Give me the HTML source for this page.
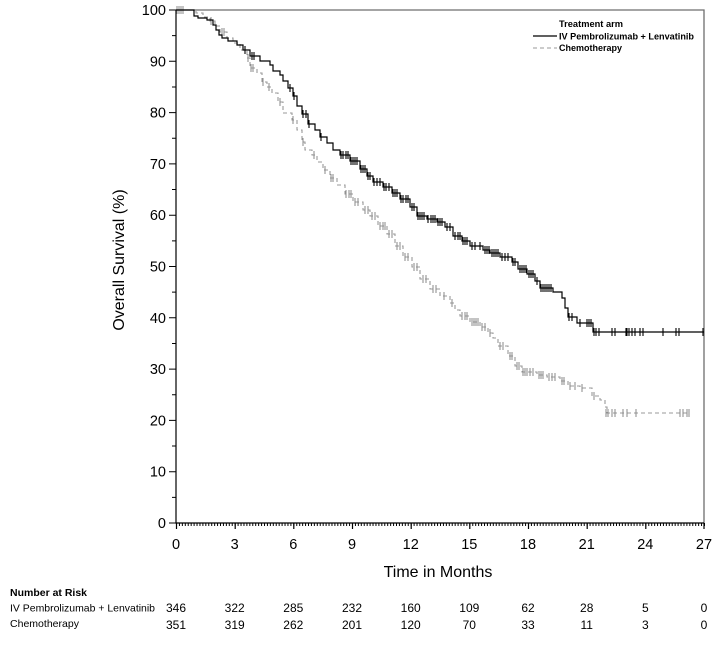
<!DOCTYPE html>
<html>
<head>
<meta charset="utf-8">
<style>
  html,body{margin:0;padding:0;background:#fff;}
  svg{display:block;}
  text{font-family:"Liberation Sans",Arial,sans-serif;fill:#000;}
</style>
</head>
<body>
<svg width="716" height="647" viewBox="0 0 716 647" xmlns="http://www.w3.org/2000/svg">
  <rect width="716" height="647" fill="#fff"/>

  <!-- frame top/right -->
  <path d="M176,10 H704 V523" fill="none" stroke="#6e6e6e" stroke-width="1.3"/>
  <!-- axes -->
  <path d="M176,10 V523 H704" fill="none" stroke="#000" stroke-width="1.2"/>

  <!-- y ticks -->
  <path d="M169,523H176 M169,471.7H176 M169,420.4H176 M169,369.1H176 M169,317.8H176 M169,266.5H176 M169,215.2H176 M169,163.9H176 M169,112.6H176 M169,61.3H176 M169,10H176
           M172,497.35H176 M172,446.05H176 M172,394.75H176 M172,343.45H176 M172,292.15H176 M172,240.85H176 M172,189.55H176 M172,138.25H176 M172,86.95H176 M172,35.65H176"
        stroke="#000" stroke-width="1"/>
  <g font-size="14.5" text-anchor="end">
    <text x="166" y="528">0</text>
    <text x="166" y="476.7">10</text>
    <text x="166" y="425.4">20</text>
    <text x="166" y="374.1">30</text>
    <text x="166" y="322.8">40</text>
    <text x="166" y="271.5">50</text>
    <text x="166" y="220.2">60</text>
    <text x="166" y="168.9">70</text>
    <text x="166" y="117.6">80</text>
    <text x="166" y="66.3">90</text>
    <text x="166" y="15">100</text>
  </g>

  <!-- x minor ticks -->
  <line x1="176" y1="524.5" x2="705" y2="524.5" stroke="#000" stroke-width="3" stroke-dasharray="1 1.9333"/>
  <!-- x major ticks -->
  <path d="M176.5,523v6 M235.2,523v6 M293.8,523v6 M352.5,523v6 M411.2,523v6 M469.8,523v6 M528.5,523v6 M587.2,523v6 M645.8,523v6 M704,523v6" stroke="#000" stroke-width="1.2"/>
  <g font-size="14.5" text-anchor="middle">
    <text x="176" y="549">0</text>
    <text x="234.7" y="549">3</text>
    <text x="293.3" y="549">6</text>
    <text x="352" y="549">9</text>
    <text x="410.7" y="549">12</text>
    <text x="469.3" y="549">15</text>
    <text x="528" y="549">18</text>
    <text x="586.7" y="549">21</text>
    <text x="645.3" y="549">24</text>
    <text x="704" y="549">27</text>
  </g>

  <text x="438" y="577" font-size="16" text-anchor="middle">Time in Months</text>
  <text transform="translate(124,260) rotate(-90)" font-size="16" text-anchor="middle">Overall Survival (%)</text>

  <!-- Chemotherapy curve (gray dashed) -->
  <path d="M176,10 H196 V13 H203 V17 H210 V21 H215 V26 H220 V32 H227 V38 H233 V43 H240 V50 H247 V58 H250 V68 H257 V73 H262 V82 H267 V87 H272 V93 H278 V102 H283 V113 H292 V120 H297 V130 H302 V142 H305 V150 H312 V155 H317 V162 H323 V170 H330 V178 H337 V185 H345 V194 H353 V202 H363 V210 H370 V216 H378 V226 H387 V234 H395 V246 H403 V257 H412 V267 H420 V279 H430 V289 H440 V296 H450 V303 H455 V310 H460 V316 H470 V322 H480 V327 H488 V333 H493 V338 H498 V346 H508 V356 H515 V366 H522 V372 H537 V375 H547 V377 H560 V381 H568 V386 H580 V388 H592 V396 H600 V400 H605 V407 H607 V413 H690"
        fill="none" stroke="#999" stroke-width="1.1" stroke-dasharray="4 3"/>
  <path d="M177,6v8 M179,6v8 M181,6v8 M183,6v8
           M211,17v8 M222,28v8 M224,28v8 M248,54v8 M251,64v8 M253,64v8 M263,78v8 M269,83v8 M280,98v8 M293,116v8 M303,138v8 M314,151v8 M325,166v8 M331,174v8 M333,174v8
           M346,190v8 M349,190v8 M351,190v8 M355,198v8 M358,198v8 M365,206v8 M368,206v8 M372,212v8 M375,212v8
           M380,222v8 M383,222v8 M385,222v8 M389,230v8 M392,230v8 M397,242v8 M400,242v8 M405,253v8 M408,253v8
           M414,263v8 M417,263v8 M423,275v8 M426,275v8 M433,285v8 M436,285v8 M444,292v8 M452,299v8
           M462,312v8 M465,312v8 M467,312v8 M472,318v8 M474,318v8 M476,318v8 M478,318v8 M482,323v8 M485,323v8 M490,329v8
           M500,342v8 M503,342v8 M510,352v8 M512,352v8 M517,362v8 M519,362v8
           M523,368v8 M525,368v8 M527,368v8 M530,368v8 M533,368v8 M539,371v8 M541,371v8 M543,371v8 M549,373v8 M552,373v8 M555,373v8
           M562,377v8 M564,377v8 M570,382v8 M575,382v8 M582,384v8 M594,392v8
           M606,409v8 M608,409v8 M612,409v8 M615,409v8 M623,409v8 M627,409v8 M636,409v8 M680,409v8 M683,409v8 M687,409v8 M689,409v8"
        fill="none" stroke="#888" stroke-width="1"/>

  <!-- Pembrolizumab + Lenvatinib curve (black solid) -->
  <path d="M176,10 H194 V16 H198 V18 H207 V20 H213 V25 H216 V30 H219 V35 H222 V38 H228 V41 H237 V45 H243 V50 H250 V56 H260 V61 H270 V65 H273 V71 H280 V75 H283 V81 H288 V88 H293 V96 H297 V106 H302 V114 H308 V124 H315 V130 H320 V137 H327 V143 H333 V150 H340 V155 H350 V161 H360 V169 H367 V176 H373 V182 H383 V187 H392 V193 H400 V199 H410 V207 H417 V216 H427 V219 H437 V222 H445 V227 H453 V236 H462 V241 H470 V246 H483 V250 H490 V253 H500 V257 H512 V262 H518 V269 H527 V274 H535 V281 H540 V288 H553 V292 H562 V298 H565 V308 H568 V317 H577 V323 H593 V332 H704"
        fill="none" stroke="#000" stroke-width="1.2"/>
  <path d="M245,46v8 M252,52v8 M254,52v8 M290,84v8 M294,92v8 M303,110v8 M306,110v8 M309,120v8 M321,133v8
           M341,151v8 M343,151v8 M346,151v8 M348,151v8
           M351,157v8 M353,157v8 M355,157v8 M357,157v8
           M361,165v8 M363,165v8 M365,165v8
           M368,172v8 M370,172v8
           M374,178v8 M377,178v8 M380,178v8
           M384,183v8 M386,183v8 M389,183v8
           M393,189v8 M395,189v8 M397,189v8
           M401,195v8 M403,195v8 M406,195v8 M408,195v8
           M412,203v8 M414,203v8
           M418,212v8 M420,212v8 M422,212v8 M424,212v8
           M428,215v8 M431,215v8 M433,215v8 M435,215v8
           M438,218v8 M440,218v8 M442,218v8
           M447,223v8 M450,223v8
           M455,232v8 M458,232v8 M460,232v8
           M463,237v8 M465,237v8 M467,237v8
           M472,242v8 M475,242v8 M480,242v8
           M485,246v8 M487,246v8 M489,246v8
           M492,249v8 M494,249v8 M496,249v8 M498,249v8
           M502,253v8 M505,253v8 M508,253v8
           M513,258v8 M515,258v8
           M520,265v8 M522,265v8 M524,265v8 M526,265v8
           M529,270v8 M531,270v8 M533,270v8
           M537,277v8
           M541,284v8 M543,284v8 M545,284v8 M547,284v8 M549,284v8 M551,284v8
           M569,313v8 M572,313v8
           M580,319v8 M587,319v8 M589,319v8 M591,319v8
           M594,328v8 M596,328v8 M599,328v8 M612,328v8 M615,328v8 M626,328v8 M627,328v8 M629,328v8 M632,328v8 M635,328v8 M640,328v8 M643,328v8 M663,328v8 M676,328v8 M679,328v8 M703,328v8"
        fill="none" stroke="#000" stroke-width="1.1"/>

  <!-- legend -->
  <text x="559" y="27" font-size="9.5" font-weight="bold" textLength="64" lengthAdjust="spacingAndGlyphs">Treatment arm</text>
  <line x1="533" y1="36" x2="557" y2="36" stroke="#000" stroke-width="1.2"/>
  <text x="559" y="39.5" font-size="9.5" font-weight="bold" textLength="135" lengthAdjust="spacingAndGlyphs">IV Pembrolizumab + Lenvatinib</text>
  <line x1="533" y1="48" x2="557" y2="48" stroke="#999" stroke-width="1.1" stroke-dasharray="4 3"/>
  <text x="559" y="51" font-size="9.5" font-weight="bold" textLength="63" lengthAdjust="spacingAndGlyphs">Chemotherapy</text>

  <!-- risk table -->
  <text x="10" y="596" font-size="10.5" font-weight="bold" textLength="77" lengthAdjust="spacingAndGlyphs">Number at Risk</text>
  <text x="10" y="611.5" font-size="10.5" textLength="145" lengthAdjust="spacingAndGlyphs">IV Pembrolizumab + Lenvatinib</text>
  <text x="10" y="627" font-size="10.5" textLength="69" lengthAdjust="spacingAndGlyphs">Chemotherapy</text>
  <g font-size="12" text-anchor="middle">
    <text x="176" y="612">346</text>
    <text x="234.7" y="612">322</text>
    <text x="293.3" y="612">285</text>
    <text x="352" y="612">232</text>
    <text x="410.7" y="612">160</text>
    <text x="469.3" y="612">109</text>
    <text x="528" y="612">62</text>
    <text x="586.7" y="612">28</text>
    <text x="645.3" y="612">5</text>
    <text x="704" y="612">0</text>

    <text x="176" y="629">351</text>
    <text x="234.7" y="629">319</text>
    <text x="293.3" y="629">262</text>
    <text x="352" y="629">201</text>
    <text x="410.7" y="629">120</text>
    <text x="469.3" y="629">70</text>
    <text x="528" y="629">33</text>
    <text x="586.7" y="629">11</text>
    <text x="645.3" y="629">3</text>
    <text x="704" y="629">0</text>
  </g>
</svg>
</body>
</html>
